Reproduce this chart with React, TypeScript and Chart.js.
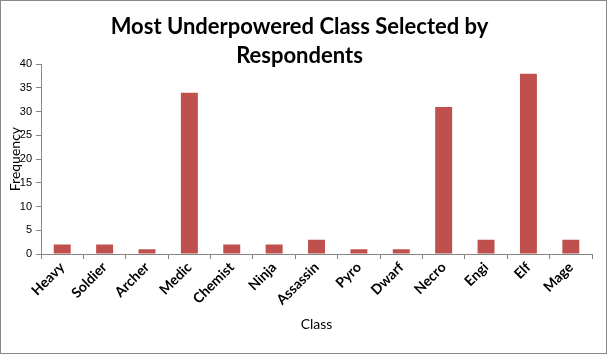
import React, { useEffect, useRef } from "react";
import { Chart, registerables } from "chart.js";

Chart.register(...registerables);

const categories = ["Heavy", "Soldier", "Archer", "Medic", "Chemist", "Ninja", "Assassin", "Pyro", "Dwarf", "Necro", "Engi", "Elf", "Mage"];
const frequency = [2, 2, 1, 34, 2, 2, 3, 1, 1, 31, 3, 38, 3];
const titleLines = ["Most Underpowered Class Selected by", "Respondents"];
const xTitle = "Class";
const yTitle = "Frequency";

export default function App() {
  const ref = useRef<HTMLCanvasElement | null>(null);
  useEffect(() => {
    document.body.style.margin = "0";
    const ctx = ref.current!;
    const axisColor = "#868686";
    const chart = new Chart(ctx, {
      type: "bar",
      data: {
        labels: categories,
        datasets: [
          {
            label: "Frequency",
            data: frequency,
            backgroundColor: "#C0504D",
            borderWidth: 0,
            barPercentage: 0.4,
            categoryPercentage: 1,
          },
        ],
      },
      options: {
        responsive: false,
        animation: false,
        layout: { padding: { left: 6, right: 14, top: 4, bottom: 20 } },
        plugins: {
          legend: { display: false },
          tooltip: { enabled: false },
          title: {
            display: true,
            text: titleLines,
            color: "#000",
            font: { family: "Lato, 'Open Sans', sans-serif", size: 22, weight: "bold", lineHeight: 1.3 },
            padding: { top: 8, bottom: -6 },
          },
        },
        scales: {
          x: {
            offset: true,
            afterFit: (scale: any) => {
              scale.height = 79;
            },
            grid: {
              display: true,
              drawOnChartArea: false,
              drawTicks: true,
              tickLength: 5,
              color: axisColor,
              offset: true,
            },
            border: { display: true, color: axisColor },
            ticks: {
              color: "#000",
              minRotation: 45,
              maxRotation: 45,
              font: { family: "Lato, 'Open Sans', sans-serif", size: 14, weight: "bold" },
              padding: 0,
            },
            title: {
              display: true,
              text: xTitle,
              color: "#000",
              font: { family: "Lato, 'Open Sans', sans-serif", size: 14 },
              padding: { top: 0, bottom: 0 },
            },
          },
          y: {
            min: 0,
            max: 40,
            grid: {
              display: true,
              drawOnChartArea: false,
              drawTicks: true,
              tickLength: 5,
              color: axisColor,
            },
            border: { display: true, color: axisColor },
            ticks: {
              stepSize: 5,
              color: "#000",
              font: { family: "'Liberation Sans', sans-serif", size: 11 },
              padding: 4,
            },
            title: {
              display: true,
              text: yTitle,
              color: "#000",
              font: { family: "Lato, 'Open Sans', sans-serif", size: 14 },
              padding: { top: 0, bottom: -8 },
            },
          },
        },
      },
    });
    return () => chart.destroy();
  }, []);
  return (
    <div style={{ position: "absolute", left: 0, top: 0, width: 605, height: 352, border: "1px solid #888", background: "#fff" }}>
      <canvas ref={ref} width={605} height={352} style={{ display: "block" }} />
    </div>
  );
}
